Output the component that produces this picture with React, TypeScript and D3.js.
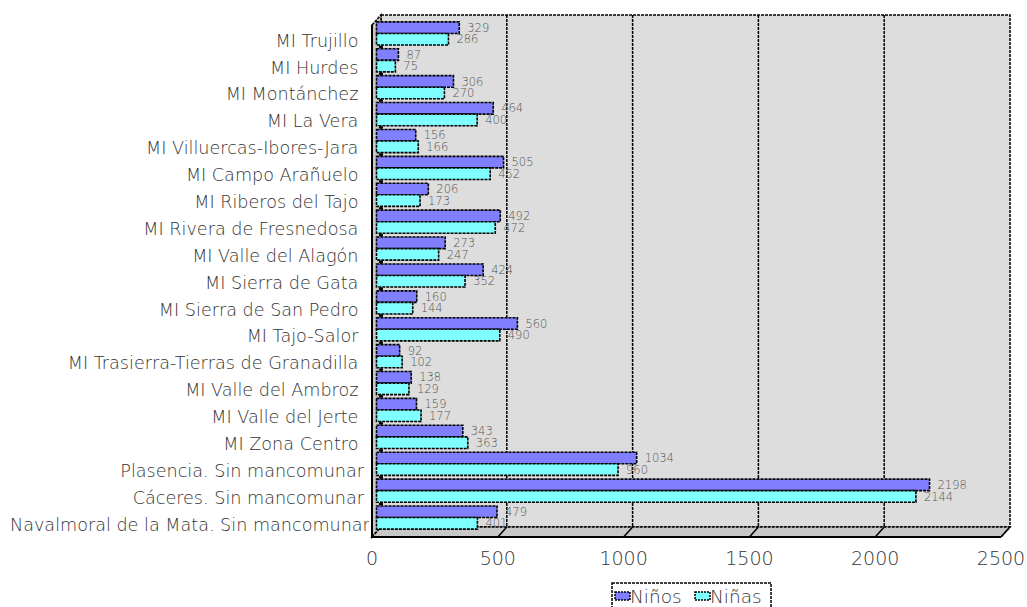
import * as d3 from "d3"

const categories = [
  "MI Trujillo ",
  "MI Hurdes ",
  "MI Montánchez ",
  "MI La Vera ",
  "MI Villuercas-Ibores-Jara ",
  "MI Campo Arañuelo ",
  "MI Riberos del Tajo ",
  "MI Rivera de Fresnedosa ",
  "MI Valle del Alagón ",
  "MI Sierra de Gata ",
  "MI Sierra de San Pedro ",
  "MI Tajo-Salor ",
  "MI Trasierra-Tierras de Granadilla ",
  "MI Valle del Ambroz ",
  "MI Valle del Jerte ",
  "MI Zona Centro ",
  "Plasencia. Sin mancomunar",
  "Cáceres. Sin mancomunar",
  "Navalmoral de la Mata. Sin mancomunar",
]
const ninos = [329, 87, 306, 464, 156, 505, 206, 492, 273, 424, 160, 560, 92, 138, 159, 343, 1034, 2198, 479]
const ninas = [286, 75, 270, 400, 166, 452, 173, 472, 247, 352, 144, 490, 102, 129, 177, 363, 960, 2144, 401]
const xTicks = [0, 500, 1000, 1500, 2000, 2500]
const seriesNames = ["Niños", "Niñas"]
const seriesColors = ["#7f7fff", "#7fffff"]

const font = "'DejaVu Sans', Verdana, sans-serif"
const labelSize = 17.6

let ctx: CanvasRenderingContext2D | null = null
function textWidth(s: string, size: number) {
  if (!ctx) ctx = document.createElement("canvas").getContext("2d")
  if (!ctx) return 0
  ctx.font = `200 ${size}px ${font}`
  return ctx.measureText(s).width
}

export default function App() {
  const width = 1027
  const height = 607
  const depthX = 9
  const depthY = 10
  const wallTop = 15
  const wallBottom = 527
  const floorFront = wallBottom + depthY

  // front plane scale (axis labels), back wall is shifted by the depth
  const xFront = d3.scaleLinear().domain([0, 2500]).range([372, 1001])
  const xBack = (v: number) => xFront(v) + depthX
  const xBar = (v: number) => xFront(v) + depthX / 2

  const y = d3.scaleBand<string>()
    .domain(categories)
    .range([20, 531])
    .paddingInner(0.14)
    .paddingOuter(0.07)
  const bh = y.bandwidth() / 2

  const dash = "3,1"
  const labelRight = 364
  const labelLeft = 10

  return (
    <svg width={width} height={height} style={{ position: "absolute", left: 0, top: 0, background: "#fff" }}>
      <defs>
        <clipPath id="label-clip">
          <rect x={0} y={0} width={369} height={height} />
        </clipPath>
      </defs>
      {/* category labels, long ones are cut at the plot edge */}
      <g clipPath="url(#label-clip)">
        {categories.map(c => {
          const w = textWidth(c, labelSize)
          const tooLong = w > labelRight - labelLeft
          return (
            <text key={c} x={tooLong ? labelLeft : labelRight} y={(y(c) as number) + y.bandwidth() / 2 + 7} dy="0.35em"
              textAnchor={tooLong ? "start" : "end"} fontFamily={font} fontWeight={200} fontSize={labelSize} fill="#333"
              style={{ whiteSpace: "pre" }}>{c}</text>
          )
        })}
      </g>
      {/* back wall */}
      <rect x={xBack(0)} y={wallTop} width={xBack(2500) - xBack(0)} height={wallBottom - wallTop}
        fill="#dddddd" stroke="#000" strokeWidth={1.5} strokeDasharray={dash} />
      {/* left wall */}
      <polygon points={`${xFront(0)},${wallTop + depthY} ${xBack(0)},${wallTop} ${xBack(0)},${wallBottom} ${xFront(0)},${floorFront}`}
        fill="#c8c8c8" stroke="#000" strokeWidth={1.5} strokeDasharray={dash} />
      {/* floor */}
      <polygon points={`${xFront(0)},${floorFront} ${xBack(0)},${wallBottom} ${xBack(2500)},${wallBottom} ${xFront(2500)},${floorFront}`}
        fill="#c8c8c8" stroke="#000" strokeWidth={1.5} strokeDasharray={dash} />
      <line x1={xFront(0)} x2={xFront(2500)} y1={floorFront} y2={floorFront} stroke="#000" strokeWidth={2} />
      <line x1={xFront(0)} x2={xFront(0)} y1={wallTop + depthY} y2={floorFront} stroke="#000" strokeWidth={2} />
      {/* gridlines */}
      {xTicks.slice(1, -1).map(t => (
        <g key={t}>
          <line x1={xBack(t)} x2={xBack(t)} y1={wallTop} y2={wallBottom} stroke="#000" strokeWidth={1.5} strokeDasharray={dash} />
          <line x1={xBack(t)} x2={xFront(t)} y1={wallBottom} y2={floorFront} stroke="#000" strokeWidth={1.5} />
        </g>
      ))}
      <line x1={xBack(2500)} x2={xFront(2500)} y1={wallBottom} y2={floorFront} stroke="#000" strokeWidth={1.5} />
      {/* category ticks */}
      {categories.slice(1).map(c => (
        <line key={c} x1={xBack(0) - 2} x2={xBack(0) + 2}
          y1={(y(c) as number) - (y.step() - y.bandwidth()) / 2}
          y2={(y(c) as number) - (y.step() - y.bandwidth()) / 2}
          stroke="#000" strokeWidth={2} />
      ))}
      {/* bars */}
      {categories.map((c, i) => {
        const y0 = y(c) as number
        return (
          <g key={c}>
            {[ninos[i], ninas[i]].map((v, s) => (
              <g key={s}>
                <rect x={xBar(0)} y={y0 + s * bh} width={xBar(v) - xBar(0)} height={bh}
                  fill={seriesColors[s]} stroke="#000" strokeWidth={1.6} strokeDasharray={dash} />
                <text x={xBar(v) + 8} y={y0 + s * bh + bh / 2} dy="0.36em"
                  fontFamily={font} fontWeight={200} fontSize={11.5} fill="#555">{v}</text>
              </g>
            ))}
          </g>
        )
      })}
      {/* x tick labels */}
      {xTicks.map(t => (
        <text key={t} x={xFront(t)} y={565} textAnchor="middle"
          fontFamily={font} fontWeight={200} fontSize={19} fill="#333">{t}</text>
      ))}
      {/* legend */}
      <rect x={612} y={583} width={159} height={30} fill="#fff" stroke="#000" strokeWidth={1.5} strokeDasharray={dash} />
      {seriesNames.map((n, i) => {
        const lx = 615 + i * 80
        return (
          <g key={n}>
            <rect x={lx} y={592} width={15} height={8} fill={seriesColors[i]} stroke="#000" strokeWidth={1.5} strokeDasharray="2,1" />
            <text x={lx + 15} y={603} fontFamily={font} fontWeight={200} fontSize={18.5} fill="#333">{n}</text>
          </g>
        )
      })}
    </svg>
  )
}
